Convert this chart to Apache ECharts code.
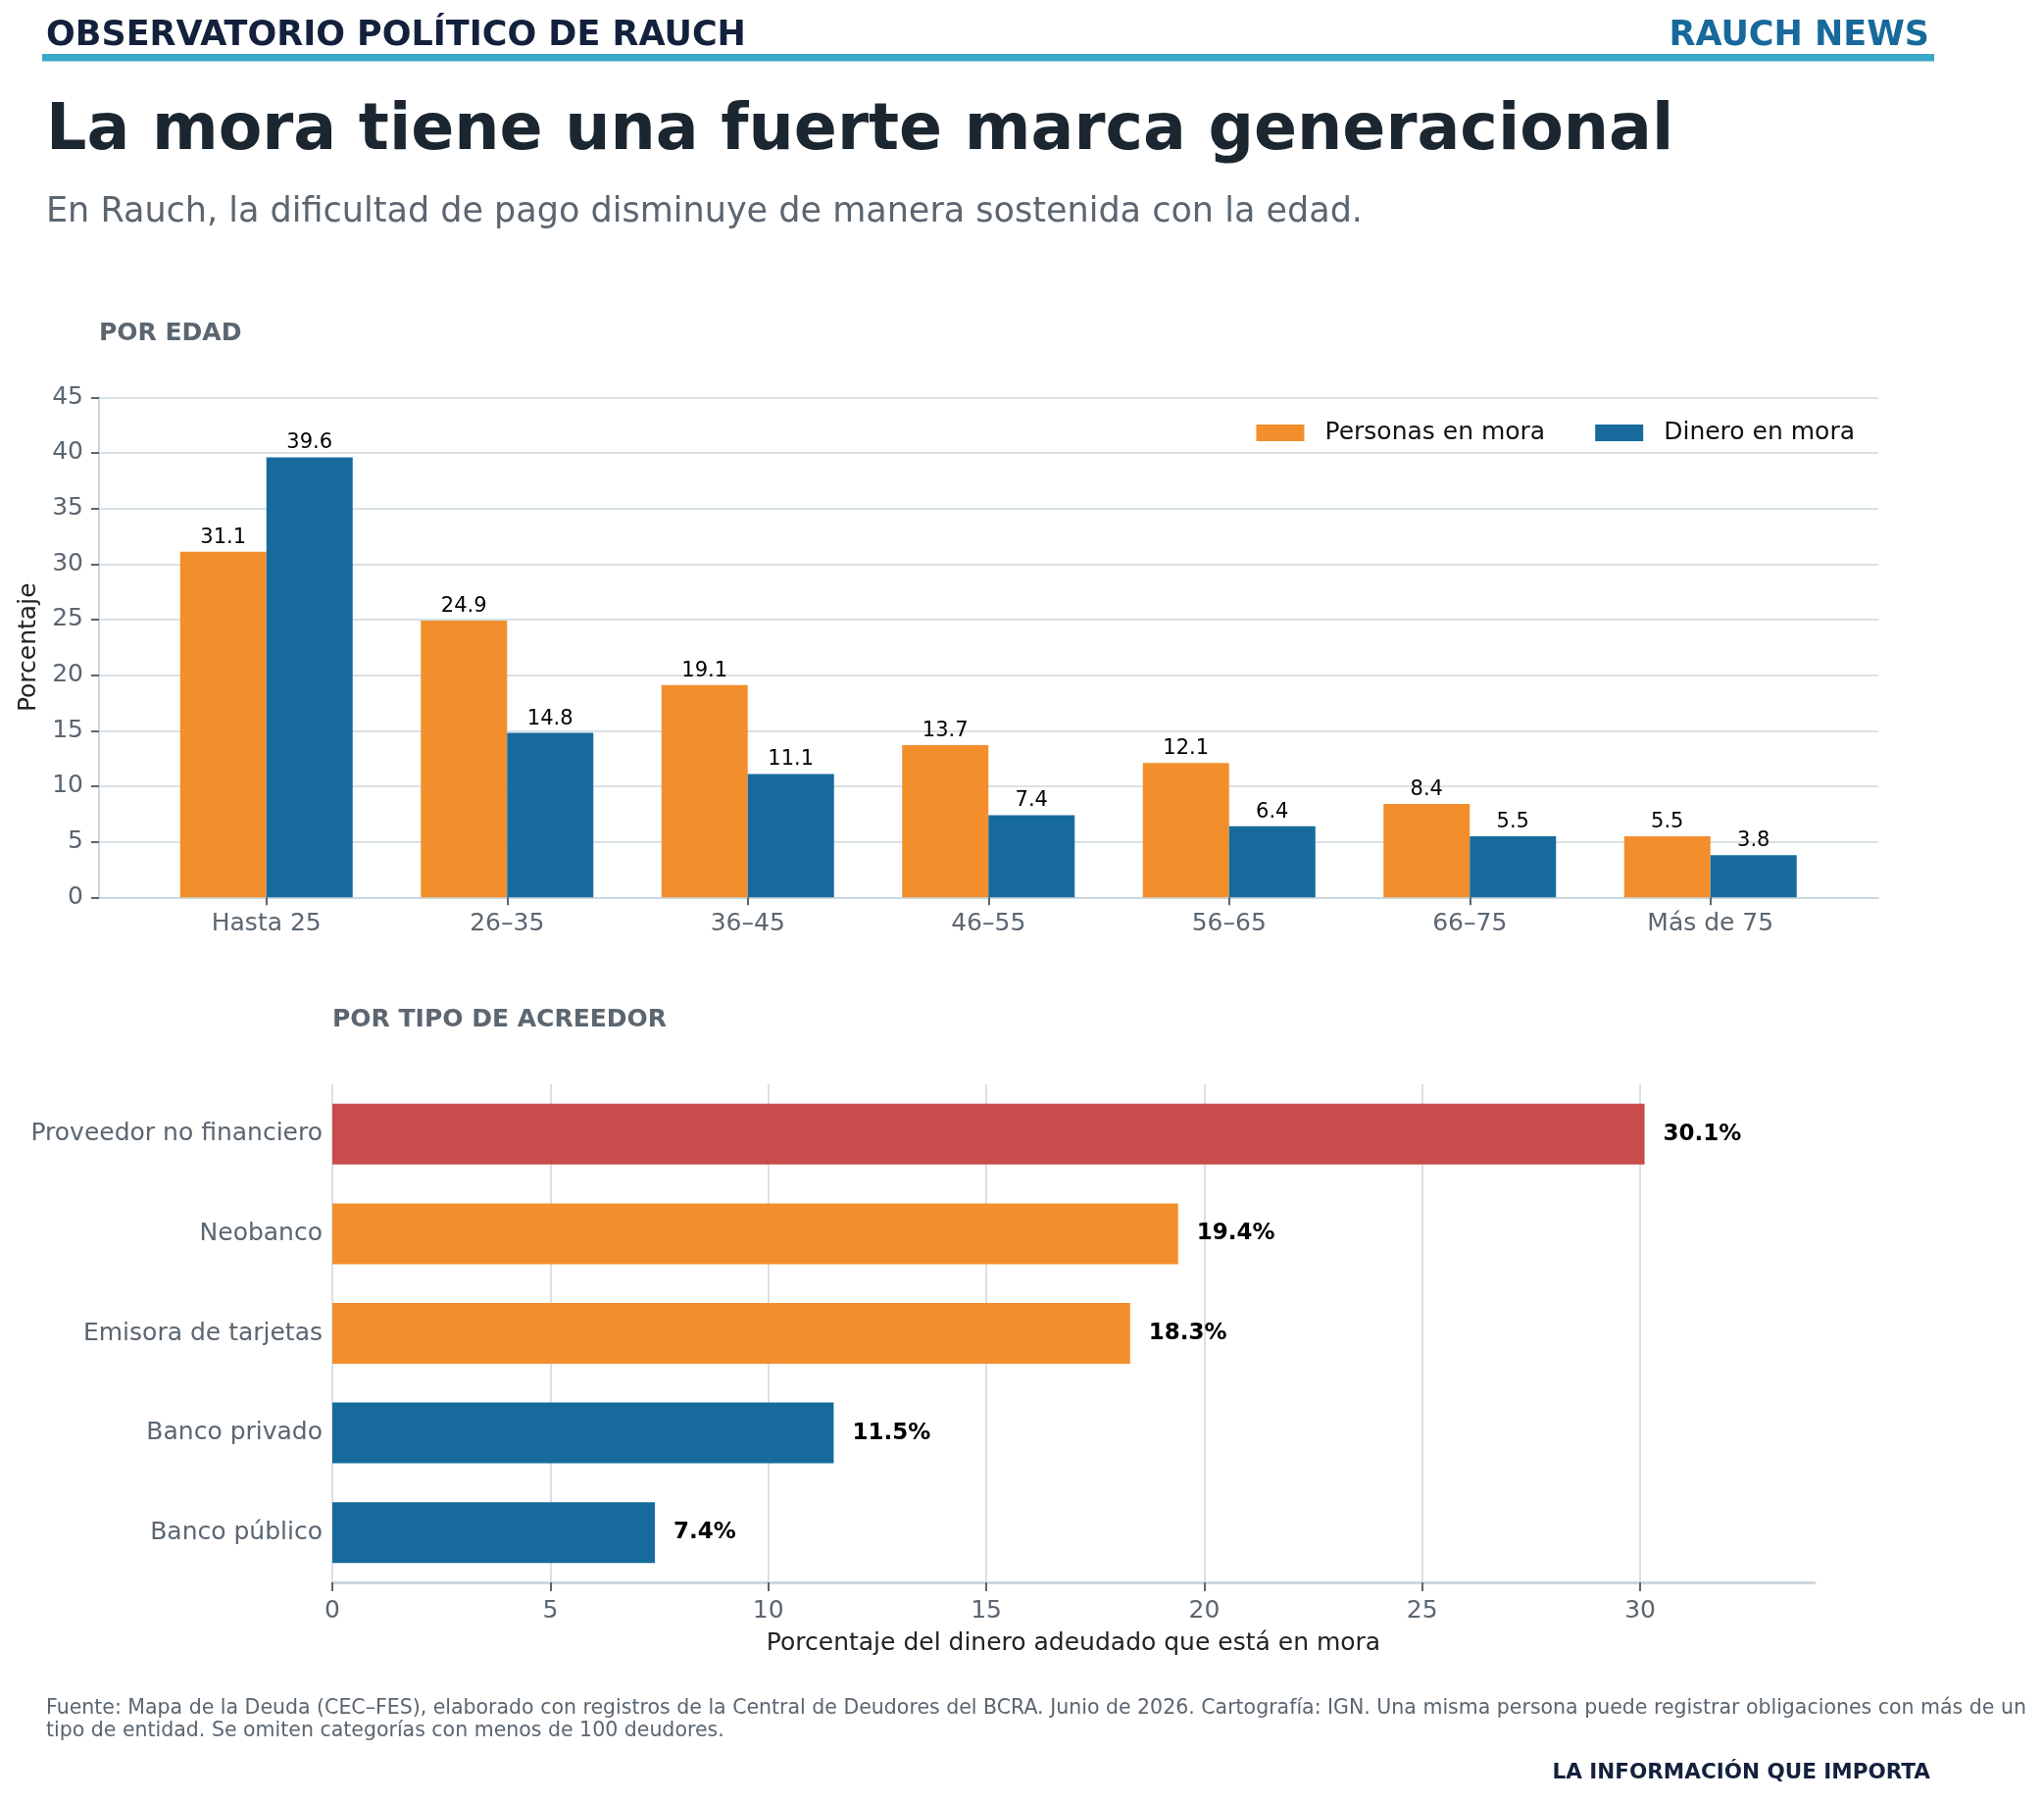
<!DOCTYPE html>
<html>
<head>
<meta charset="utf-8">
<title>La mora tiene una fuerte marca generacional</title>
<script src="https://cdn.jsdelivr.net/npm/echarts@6/dist/echarts.min.js"></script>
<style>
  html, body { margin: 0; padding: 0; background: #fff; }
  #chart { width: 2085px; height: 1837px; }
</style>
</head>
<body>
<div id="chart"></div>
<script>
// Por edad
const ageGroups = ["Hasta 25", "26–35", "36–45", "46–55", "56–65", "66–75", "Más de 75"];
const personasEnMora = [31.1, 24.9, 19.1, 13.7, 12.1, 8.4, 5.5];
const dineroEnMora = [39.6, 14.8, 11.1, 7.4, 6.4, 5.5, 3.8];

// Por tipo de acreedor
const creditors = ["Proveedor no financiero", "Neobanco", "Emisora de tarjetas", "Banco privado", "Banco público"];
const creditorShare = [30.1, 19.4, 18.3, 11.5, 7.4];
const creditorTicks = [0, 5, 10, 15, 20, 25, 30];

const FONT = "DejaVu Sans";
const ORANGE = "#f28e2c";
const BLUE = "#176b9c";
const RED = "#c84c4c";
const GRAY = "#5b6670";
const GRID = "#d9e1e6";
const AXIS = "#cbd7de";
const creditorColors = [RED, ORANGE, ORANGE, BLUE, BLUE];

const chart = echarts.init(document.getElementById("chart"), null, { renderer: "canvas" });

// text placed by its baseline (canvas "middle" sits ~0.297em above the baseline for DejaVu)
const txt = (x, base, text, size, color, weight, align) => ({
  type: "text", x: x, y: base - 0.297 * size,
  style: { text: text, font: `${weight || "normal"} ${size}px "${FONT}"`, fill: color,
           align: align || "left", verticalAlign: "middle" }
});

chart.setOption({
  backgroundColor: "#fff",
  textStyle: { fontFamily: FONT },
  animation: false,
  legend: {
    data: ["Personas en mora", "Dinero en mora"],
    right: 188, top: 424,
    itemWidth: 49, itemHeight: 17, itemGap: 51,
    icon: "rect",
    textStyle: { fontSize: 25, color: "#111", padding: [0, 0, 0, 16] }
  },
  grid: [
    // outer frame for gridlines / spines, inner one for the grouped bars
    { left: 101, right: 169, top: 405.3, height: 510 },
    { left: 149, width: 1718.5, top: 405.3, height: 510 },
    { left: 339, right: 234, top: 1106, height: 508 }
  ],
  xAxis: [
    { gridIndex: 0, type: "value", min: 0, max: 1,
      axisLine: { show: true, lineStyle: { color: AXIS, width: 2 } },
      axisTick: { show: false }, axisLabel: { show: false }, splitLine: { show: false } },
    { gridIndex: 1, type: "category", data: ageGroups,
      axisLine: { show: false },
      axisTick: { show: true, alignWithLabel: true, length: 8, lineStyle: { color: GRAY, width: 2 } },
      axisLabel: { color: GRAY, fontSize: 25, margin: 15 } },
    { gridIndex: 2, type: "value", min: 0, max: 34, interval: 5,
      name: "Porcentaje del dinero adeudado que está en mora",
      nameLocation: "middle", nameGap: 50,
      nameTextStyle: { color: "#222", fontSize: 25 },
      axisLine: { show: true, lineStyle: { color: AXIS, width: 3 } },
      axisTick: { show: true, length: 9, customValues: creditorTicks, lineStyle: { color: GRAY, width: 2 } },
      axisLabel: { color: GRAY, fontSize: 25, margin: 17, customValues: creditorTicks },
      splitLine: { show: true, lineStyle: { color: GRID, width: 2 } } }
  ],
  yAxis: [
    { gridIndex: 0, type: "value", min: 0, max: 45, interval: 5,
      name: "Porcentaje", nameLocation: "middle", nameGap: 58,
      nameTextStyle: { color: "#222", fontSize: 25 },
      axisLine: { show: true, lineStyle: { color: AXIS, width: 2 } },
      axisTick: { show: true, length: 8, lineStyle: { color: GRAY, width: 2 } },
      axisLabel: { color: GRAY, fontSize: 25, margin: 16 },
      splitLine: { show: true, lineStyle: { color: GRID, width: 2 } } },
    { gridIndex: 1, type: "value", min: 0, max: 45,
      axisLine: { show: false }, axisTick: { show: false },
      axisLabel: { show: false }, splitLine: { show: false } },
    { gridIndex: 2, type: "category", data: creditors, inverse: true,
      axisLine: { show: false }, axisTick: { show: false },
      axisLabel: { color: GRAY, fontSize: 25, margin: 10 } }
  ],
  series: [
    { name: "Personas en mora", type: "bar", xAxisIndex: 1, yAxisIndex: 1,
      data: personasEnMora, barWidth: 88, barGap: "0%",
      itemStyle: { color: ORANGE },
      label: { show: true, position: "top", distance: 4, color: "#000", fontSize: 21 } },
    { name: "Dinero en mora", type: "bar", xAxisIndex: 1, yAxisIndex: 1,
      data: dineroEnMora, barWidth: 88, barGap: "0%",
      itemStyle: { color: BLUE },
      label: { show: true, position: "top", distance: 4, color: "#000", fontSize: 21 } },
    { name: "Acreedor", type: "bar", xAxisIndex: 2, yAxisIndex: 2,
      data: creditorShare.map((v, i) => ({ value: v, itemStyle: { color: creditorColors[i] } })),
      barWidth: 62,
      label: { show: true, position: "right", distance: 19, color: "#000",
               fontSize: 23, fontWeight: "bold", formatter: "{c}%" } }
  ],
  graphic: [
    txt(47, 47, "OBSERVATORIO POLÍTICO DE RAUCH", 35, "#14213d", "bold"),
    txt(1968, 47, "RAUCH NEWS", 35, "#17699b", "bold", "right"),
    { type: "rect", shape: { x: 43, y: 55, width: 1930, height: 7.5 }, style: { fill: "#3aa8c8" } },
    txt(47, 154, "La mora tiene una fuerte marca generacional", 65, "#1b2631", "bold"),
    txt(47, 227.5, "En Rauch, la dificultad de pago disminuye de manera sostenida con la edad.", 35, GRAY),
    txt(101, 348, "POR EDAD", 25, GRAY, "bold"),
    txt(339, 1048, "POR TIPO DE ACREEDOR", 25, GRAY, "bold"),
    txt(47, 1749, "Fuente: Mapa de la Deuda (CEC–FES), elaborado con registros de la Central de Deudores del BCRA. Junio de 2026. Cartografía: IGN. Una misma persona puede registrar obligaciones con más de un", 20.5, GRAY),
    txt(47, 1772, "tipo de entidad. Se omiten categorías con menos de 100 deudores.", 20.5, GRAY),
    txt(1969, 1815, "LA INFORMACIÓN QUE IMPORTA", 21.5, "#14213d", "bold", "right")
  ]
});
</script>
</body>
</html>
